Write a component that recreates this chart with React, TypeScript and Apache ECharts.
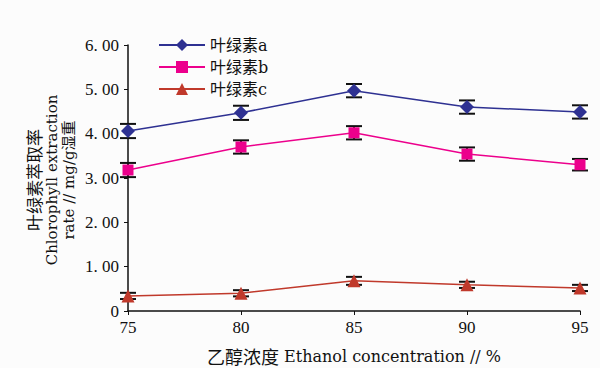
import React, { useEffect, useRef } from "react";
import * as echarts from "echarts";

const xValues = [75, 80, 85, 90, 95];
const seriesNames = ["叶绿素a", "叶绿素b", "叶绿素c"];
const chlA = [4.06, 4.47, 4.97, 4.6, 4.49];
const chlAErr = [0.16, 0.16, 0.15, 0.15, 0.15];
const chlB = [3.18, 3.7, 4.02, 3.54, 3.3];
const chlBErr = [0.16, 0.15, 0.15, 0.15, 0.13];
const chlC = [0.34, 0.4, 0.68, 0.59, 0.52];
const chlCErr = [0.07, 0.07, 0.09, 0.07, 0.07];
const yTickLabels: Record<string, string> = {
  "0": "0",
  "1": "1. 00",
  "2": "2. 00",
  "3": "3. 00",
  "4": "4. 00",
  "5": "5. 00",
  "6": "6. 00",
};
const yTitleLines = ["叶绿素萃取率", "Chlorophyll extraction", "rate // mg/g湿重"];

const colors = ["#2e3192", "#ec008c", "#c0392b"];
const symbols = ["diamond", "rect", "triangle"];
const symbolSizes = [14, 11, 13];
const SERIF = "'Liberation Serif', 'Noto Sans CJK SC', serif";
const WIDE = "'DejaVu Serif', 'Noto Sans CJK SC', serif";
const CJK = "'Noto Sans CJK SC', serif";

export default function App() {
  const ref = useRef<HTMLDivElement>(null);
  useEffect(() => {
    if (!ref.current) return;
    const chart = echarts.init(ref.current, null, { renderer: "svg" });
    const allVals = [chlA, chlB, chlC];
    const allErr = [chlAErr, chlBErr, chlCErr];

    const lineSeries = allVals.map((vals, i) => ({
      name: seriesNames[i],
      type: "line",
      data: xValues.map((x, j) => [x, vals[j]]),
      symbol: symbols[i],
      symbolSize: symbolSizes[i],
      itemStyle: { color: colors[i] },
      lineStyle: { color: colors[i], width: 1.5 },
      z: 3,
    }));

    const errSeries = allVals.map((vals, i) => ({
      type: "custom",
      name: "err" + i,
      data: xValues.map((x, j) => [x, vals[j] - allErr[i][j], vals[j] + allErr[i][j]]),
      renderItem: (params: any, api: any) => {
        const x = api.value(0);
        const lo = api.coord([x, api.value(1)]);
        const hi = api.coord([x, api.value(2)]);
        const hw = 8;
        const style = { stroke: "#111", lineWidth: 2 };
        return {
          type: "group",
          children: [
            { type: "line", shape: { x1: lo[0], y1: lo[1], x2: hi[0], y2: hi[1] }, style },
            { type: "line", shape: { x1: lo[0] - hw, y1: lo[1], x2: lo[0] + hw, y2: lo[1] }, style },
            { type: "line", shape: { x1: hi[0] - hw, y1: hi[1], x2: hi[0] + hw, y2: hi[1] }, style },
          ],
        };
      },
      z: 2,
      silent: true,
    }));

    const titleX = [33, 52, 69];
    const titleFonts = ["17px " + CJK, "15px " + WIDE, "15px " + WIDE];

    chart.setOption({
      animation: false,
      backgroundColor: "#fcfcfc",
      grid: { left: 128, right: 20, top: 45, bottom: 57, outerBoundsMode: "none", containLabel: false },
      legend: {
        data: seriesNames,
        orient: "vertical",
        left: 153,
        top: 32,
        itemGap: 6,
        itemWidth: 46,
        itemHeight: 15,
        textStyle: { fontFamily: WIDE, fontSize: 16, color: "#111" },
      },
      xAxis: {
        type: "value",
        min: 75,
        max: 95,
        interval: 5,
        name: "{c|乙醇浓度} Ethanol concentration // %",
        nameLocation: "middle",
        nameGap: 36,
        nameTextStyle: {
          fontFamily: WIDE,
          fontSize: 16,
          color: "#111",
          rich: {
            c: { fontFamily: CJK, fontSize: 18, color: "#111" },
          },
        },
        axisLine: { lineStyle: { color: "#111", width: 1.5 } },
        axisTick: { show: true, length: 4, lineStyle: { color: "#111" } },
        axisLabel: { fontFamily: SERIF, fontSize: 17, color: "#111", margin: 8 },
        splitLine: { show: false },
      },
      yAxis: {
        type: "value",
        min: 0,
        max: 6,
        interval: 1,
        axisLine: { show: true, lineStyle: { color: "#111", width: 1.5 } },
        axisTick: { show: true, length: 4, lineStyle: { color: "#111" } },
        axisLabel: {
          fontFamily: SERIF,
          fontSize: 17,
          color: "#111",
          margin: 9,
          formatter: (v: number) => yTickLabels[String(v)] ?? String(v),
        },
        splitLine: { show: false },
      },
      graphic: yTitleLines.map((t, i) => ({
        type: "text",
        x: titleX[i],
        y: 180,
        rotation: Math.PI / 2,
        style: {
          text: t,
          font: titleFonts[i],
          fill: "#111",
          align: "center",
          verticalAlign: "middle",
        },
      })),
      series: [...errSeries, ...lineSeries],
    });
    return () => chart.dispose();
  }, []);
  return <div ref={ref} style={{ width: 600, height: 368, position: "absolute", left: 0, top: 0 }} />;
}
